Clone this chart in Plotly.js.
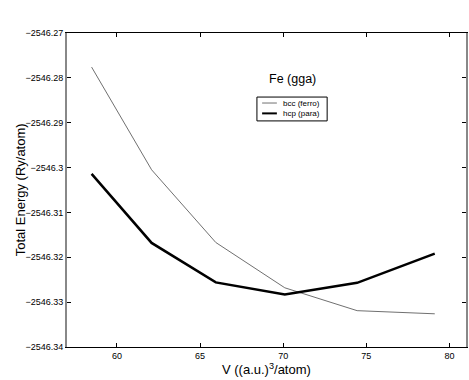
<!DOCTYPE html>
<html><head><meta charset="utf-8">
<script src="https://cdn.plot.ly/plotly-3.0.1.min.js"></script>
<style>html,body{margin:0;padding:0;background:#fff}#chart{width:469px;height:380px}</style>
</head><body><div id="chart"></div>
<script>
var volume = [58.48, 62.09, 65.95, 70.1, 74.45, 79.12];
var bccFerro = [-2546.2776, -2546.3005, -2546.3167, -2546.3268, -2546.3319, -2546.3326];
var hcpPara = [-2546.3014, -2546.3168, -2546.3256, -2546.3283, -2546.3257, -2546.3192];
var yTickVals = [-2546.34, -2546.33, -2546.32, -2546.31, -2546.30, -2546.29, -2546.28, -2546.27];
var yTickText = ['\u22122546.34', '\u22122546.33', '\u22122546.32', '\u22122546.31', '\u22122546.3', '\u22122546.29', '\u22122546.28', '\u22122546.27'];
var xTickVals = [60, 65, 70, 75, 80];
var seriesNames = ['bcc (ferro)', 'hcp (para)'];
var seriesColors = ['#707070', '#000000'];
var seriesWidths = [1, 2.5];

var traces = [
  {x: volume, y: bccFerro, name: seriesNames[0], mode: 'lines', line: {color: seriesColors[0], width: seriesWidths[0]}},
  {x: volume, y: hcpPara, name: seriesNames[1], mode: 'lines', line: {color: seriesColors[1], width: seriesWidths[1]}}
];

// manual compact legend (MATLAB style)
var legY = [0.777, 0.744];
var shapes = [{type: 'rect', xref: 'paper', yref: 'paper', x0: 0.476, x1: 0.652, y0: 0.720, y1: 0.796,
  line: {color: '#000', width: 1}, fillcolor: '#fff', layer: 'above'}];
var annotations = [
  {text: 'Fe (gga)', xref: 'paper', yref: 'paper', x: 0.564, y: 0.852, showarrow: false,
    font: {size: 12.5}, xanchor: 'center', yanchor: 'middle'},
  {text: 'Total Energy (Ry/atom)', xref: 'paper', yref: 'paper', x: -0.117, y: 0.5, xanchor: 'center',
    yanchor: 'middle', textangle: -90, showarrow: false, font: {size: 13}},
  {text: 'V ((a.u.)<sup>3</sup>/atom)', xref: 'paper', yref: 'paper', x: 0.5, y: -0.039, xanchor: 'center',
    yanchor: 'top', showarrow: false, font: {size: 13}}
];
for (var i = 0; i < seriesNames.length; i++) {
  shapes.push({type: 'line', xref: 'paper', yref: 'paper', x0: 0.489, x1: 0.526, y0: legY[i], y1: legY[i],
    line: {color: seriesColors[i], width: seriesWidths[i] === 1 ? 1 : 2}, layer: 'above'});
  annotations.push({text: seriesNames[i], xref: 'paper', yref: 'paper', x: 0.537, y: legY[i],
    xanchor: 'left', yanchor: 'middle', showarrow: false, font: {size: 8}});
}

var layout = {
  width: 469, height: 380,
  margin: {l: 67, r: 3, t: 33, b: 33},
  paper_bgcolor: '#fff', plot_bgcolor: '#fff',
  font: {family: 'Liberation Sans, Arial, sans-serif', color: '#000'},
  showlegend: false,
  xaxis: {range: [57, 81], tickvals: xTickVals, ticks: 'inside', ticklen: 4, tickcolor: '#000',
    showgrid: false, zeroline: false, showline: true, linecolor: '#000', linewidth: 1, mirror: 'ticks',
    tickfont: {size: 9}},
  yaxis: {range: [-2546.34, -2546.27], tickvals: yTickVals, ticktext: yTickText, ticks: 'inside', ticklen: 4,
    tickcolor: '#000', showgrid: false, zeroline: false, showline: true, linecolor: '#888', linewidth: 2,
    mirror: 'ticks', tickfont: {size: 9}},
  shapes: shapes,
  annotations: annotations
};
Plotly.newPlot('chart', traces, layout, {displayModeBar: false, staticPlot: true});
</script></body></html>
